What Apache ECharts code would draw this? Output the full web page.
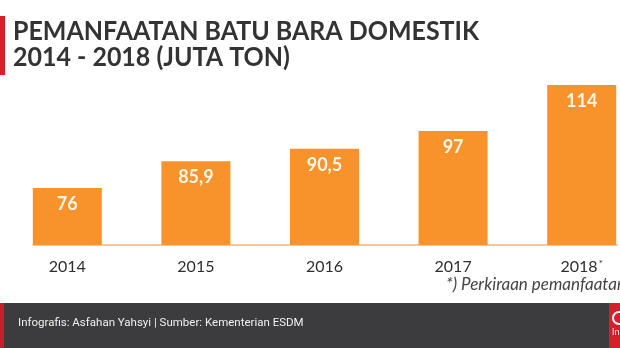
<!DOCTYPE html>
<html><head><meta charset="utf-8">
<script src="https://cdn.jsdelivr.net/npm/echarts@6/dist/echarts.min.js"></script>
<style>html,body{margin:0;padding:0;background:#fff}#c{width:620px;height:348px}</style>
</head><body><div id="c"></div>
<script>
var categories = ['2014', '2015', '2016', '2017', '2018'];
var tickLabels = ['2014', '2015', '2016', '2017', '2018*'];
var values = [76, 85.9, 90.5, 97, 114];
var valueLabels = ['76', '85,9', '90,5', '97', '114'];
var titleLines = ['PEMANFAATAN BATU BARA DOMESTIK', '2014 - 2018 (JUTA TON)'];
var footnote = '*) Perkiraan pemanfaatan';
var footerText = 'Infografis: Asfahan Yahsyi | Sumber: Kementerian ESDM';

var chart = echarts.init(document.getElementById('c'), null, {renderer: 'canvas'});
chart.setOption({
  backgroundColor: '#ffffff',
  animation: false,
  grid: [
    {left: 3, width: 643, top: 85, bottom: 103, outerBoundsMode: 'none', containLabel: false},
    {left: 33, right: 3, top: 85, bottom: 103, outerBoundsMode: 'none'}
  ],
  xAxis: [
    {
      type: 'category', data: categories, gridIndex: 0,
      axisLine: {show: false}, axisTick: {show: false},
      axisLabel: {
        margin: 14, color: '#2e2e2e', fontSize: 16, fontFamily: 'Lato', fontWeight: 'normal',
        formatter: function (v, i) {
          var t = tickLabels[i];
          if (t.indexOf('*') >= 0) return t.replace('*', '') + '{s|*}';
          return t;
        },
        rich: {s: {fontSize: 10, color: '#333', verticalAlign: 'top', padding: [0, 0, 6, 1]}}
      }
    },
    {
      type: 'category', data: [''], gridIndex: 1, position: 'bottom',
      axisLine: {show: true, onZero: false, lineStyle: {color: '#f9b37a', width: 1.5}},
      axisTick: {show: false}, axisLabel: {show: false}
    }
  ],
  yAxis: [
    {type: 'value', gridIndex: 0, min: 55, max: 114, show: false},
    {type: 'value', gridIndex: 1, min: 0, max: 1, show: false}
  ],
  series: [{
    type: 'bar', xAxisIndex: 0, yAxisIndex: 0, z: 3,
    data: values, barWidth: 69,
    itemStyle: {color: '#f8922b'},
    label: {
      show: true, position: 'insideTop', distance: 7,
      color: '#fff6ec', fontSize: 18, fontFamily: 'Lato', fontWeight: 'bold',
      formatter: function (p) { return valueLabels[p.dataIndex]; }
    }
  }],
  graphic: [
    {type: 'rect', shape: {x: 0, y: 16, width: 5, height: 59}, style: {fill: '#d71f2b'}},
    {type: 'text', x: 13, y: 18, scaleX: 0.925, style: {text: titleLines.join('\n'), fill: '#333333', font: 'bold 27px Lato', lineHeight: 26}},
    {type: 'text', x: 446, y: 276, style: {text: footnote, fill: '#444', font: 'italic 17px Lato'}},
    {type: 'rect', shape: {x: 0, y: 303, width: 620, height: 45}, style: {fill: '#3c3c3e'}},
    {type: 'rect', shape: {x: 0, y: 303, width: 4, height: 45}, style: {fill: '#c4202b'}},
    {type: 'rect', shape: {x: 609, y: 303, width: 11, height: 45}, style: {fill: '#d71f2b'}},
    {type: 'circle', shape: {cx: 619, cy: 318, r: 6}, style: {fill: 'none', stroke: '#ffffff', lineWidth: 2}},
    {type: 'text', x: 612, y: 328, style: {text: 'In', fill: '#ffffff', font: '9px Roboto'}},
    {type: 'text', x: 18, y: 317, style: {text: footerText, fill: '#f0f0f0', font: '11.5px Roboto'}}
  ]
});
</script>
</body></html>
